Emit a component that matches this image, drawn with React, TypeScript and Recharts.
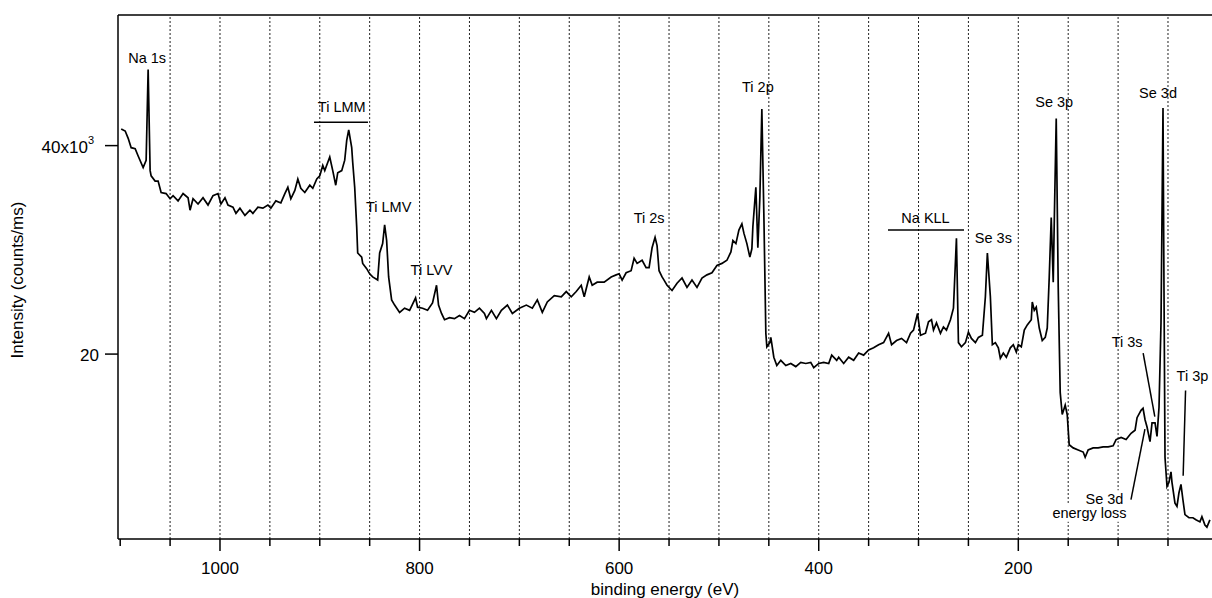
import React from "react";
import { LineChart, Line, XAxis, YAxis, ReferenceLine, ReferenceDot } from "recharts";

const FONT = "'Liberation Sans', Arial, sans-serif";

// binding energy (eV), high to low
const bindingEnergy = [
  1099, 1095, 1092, 1089, 1085, 1082, 1077, 1074, 1072, 1070, 1069, 1065, 1062, 1059, 1054, 1050,
  1047, 1042, 1037, 1032, 1030, 1027, 1022, 1017, 1012, 1007, 1002, 999, 995, 992, 987, 984, 980,
  975, 970, 967, 962, 957, 952, 949, 944, 939, 935, 932, 929, 925, 922, 919, 915, 910, 907, 903,
  900, 897, 895, 890, 887, 884, 882, 878, 875, 873, 871, 868, 867, 865, 863, 862, 858, 857, 853,
  850, 847, 842, 840, 837, 835, 833, 831, 828, 825, 820, 815, 810, 804, 802, 797, 792, 787, 783,
  781, 778, 775, 770, 765, 760, 755, 750, 745, 740, 735, 733, 728, 723, 718, 712, 707, 700, 693,
  687, 682, 677, 672, 665, 658, 653, 648, 643, 638, 635, 630, 627, 622, 615, 608, 603, 600, 597,
  593, 588, 585, 582, 577, 573, 570, 567, 564, 562, 560, 557, 555, 552, 547, 542, 537, 532, 527,
  522, 517, 512, 507, 502, 497, 492, 488, 486, 483, 480, 477, 475, 472, 469, 467, 466, 463, 461,
  459, 457, 455, 453, 452, 449, 448, 445, 442, 438, 433, 428, 423, 418, 413, 408, 405, 400, 395,
  390, 387, 382, 380, 375, 370, 365, 360, 355, 350, 345, 340, 335, 330, 327, 322, 317, 312, 308,
  305, 301, 298, 293, 290, 287, 285, 282, 278, 275, 272, 268, 265, 262, 260, 257, 253, 250, 247,
  243, 240, 236, 233, 231, 228, 226, 223, 220, 218, 215, 212, 208, 205, 202, 200, 197, 194, 191,
  187, 186, 184, 182, 179, 176, 173, 171, 169, 167, 165, 164, 162, 160, 158, 156, 153, 151, 149,
  145, 140, 135, 133, 130, 125, 120, 115, 110, 105, 102, 97, 92, 87, 83, 81, 77, 75, 73, 71, 68,
  66, 63, 61, 59, 57, 55, 54, 53, 51, 49, 47, 46, 43, 41, 39, 37, 35, 33, 29, 25, 22, 18, 16, 13,
  11, 8,
];

// intensity, x10^3 counts/ms
const intensity = [
  41.6, 41.4, 40.7, 39.8, 39.7, 39.0, 37.9, 38.6, 47.3, 37.6, 37.1, 36.6, 36.6, 35.5, 35.4, 34.9,
  35.2, 34.7, 35.4, 35.0, 33.8, 34.9, 34.4, 35.0, 34.3, 35.2, 35.4, 34.4, 35.0, 34.3, 34.1, 33.5, 34.0,
  33.3, 33.8, 33.5, 34.1, 34.0, 34.3, 34.0, 34.7, 34.5, 35.4, 36.0, 34.9, 35.7, 36.8, 35.9, 35.5, 36.2, 35.9, 36.8,
  37.1, 38.1, 37.6, 38.9, 37.6, 36.2, 37.4, 37.6, 38.6, 40.5, 41.5, 39.8, 38.4, 36.0, 32.2, 29.7, 29.3, 28.7, 28.2,
  27.7, 27.4, 27.1, 29.7, 30.6, 32.4, 30.9, 27.4, 25.2, 24.7, 24.0, 24.4, 24.2, 25.4, 24.5, 24.4, 24.2, 24.9, 26.6,
  24.7, 23.9, 23.3, 23.5, 23.4, 23.7, 23.4, 24.2, 24.0, 24.4, 23.9, 23.4, 24.2, 23.4, 24.2, 24.7, 23.9, 24.4, 24.7,
  24.4, 25.2, 24.0, 25.0, 25.6, 25.5, 26.0, 25.5, 26.0, 26.6, 25.5, 27.4, 26.6, 26.9, 26.9, 27.4, 27.6, 27.7, 27.1,
  27.8, 28.0, 29.2, 28.7, 29.0, 28.3, 28.3, 30.2, 31.2, 30.4, 28.0, 27.4, 27.1, 26.6, 26.1, 26.8, 27.3, 26.4, 27.1,
  26.4, 27.3, 27.6, 27.8, 28.5, 28.7, 29.0, 29.8, 30.9, 30.6, 31.9, 32.5, 31.6, 30.6, 29.3, 30.1, 32.2, 36.0, 30.2,
  35.0, 43.5, 33.5, 22.0, 20.7, 21.1, 21.6, 19.7, 18.9, 19.4, 18.9, 19.1, 18.8, 19.2, 19.1, 19.2, 18.7, 19.1, 19.2,
  19.1, 19.9, 19.4, 19.7, 19.1, 19.7, 19.4, 20.1, 19.9, 20.4, 20.6, 20.9, 21.1, 22.0, 20.9, 21.3, 21.5, 21.1, 22.0,
  22.3, 23.9, 21.8, 22.0, 23.1, 23.3, 22.3, 23.0, 22.0, 22.6, 22.3, 23.3, 24.4, 31.1, 21.1, 20.7, 21.1, 22.1, 21.5,
  21.1, 21.6, 21.8, 25.5, 29.7, 25.5, 20.9, 21.1, 20.6, 19.6, 20.1, 19.7, 20.6, 20.9, 20.2, 20.9, 20.7, 22.3, 22.8,
  23.3, 25.0, 24.2, 24.5, 22.5, 21.3, 21.6, 22.5, 27.4, 33.1, 26.9, 32.5, 42.6, 26.4, 16.3, 14.2, 15.1, 14.2, 11.3,
  11.0, 10.8, 10.6, 10.1, 10.8, 11.0, 11.0, 11.1, 11.1, 11.2, 11.8, 12.0, 11.8, 12.4, 12.7, 13.9, 14.6, 14.8, 13.7, 13.0, 11.6,
  13.4, 13.4, 12.1, 14.9, 23.0, 43.6, 26.1, 10.1, 7.3, 7.7, 8.7, 7.7, 5.7, 5.4, 6.7, 7.5, 6.0, 4.6, 4.3, 4.3, 4.1, 3.9, 4.4, 3.6,
  3.4, 4.1,
];

const xTicks = [1100, 1050, 1000, 950, 900, 850, 800, 750, 700, 650, 600, 550, 500, 450, 400, 350, 300, 250, 200, 150, 100, 50];
const xLabelled = [1000, 800, 600, 400, 200];
const gridEnergies = [1050, 1000, 950, 900, 850, 800, 750, 700, 650, 600, 550, 500, 450, 400, 350, 300, 250, 200, 150, 100, 50];
const yTicks = [20, 40];

const peakLabels = [
  { text: "Na 1s", e: 1073, i: 48.4 },
  { text: "Ti LMM", e: 878, i: 43.7 },
  { text: "Ti LMV", e: 831, i: 34.1 },
  { text: "Ti LVV", e: 788, i: 28.1 },
  { text: "Ti 2s", e: 570, i: 33.1 },
  { text: "Ti 2p", e: 461, i: 45.6 },
  { text: "Na KLL", e: 293, i: 33.1 },
  { text: "Se 3s", e: 225, i: 31.1 },
  { text: "Se 3p", e: 164, i: 44.2 },
  { text: "Se 3d", e: 60, i: 45.0 },
  { text: "Ti 3s", e: 91, i: 21.2 },
  { text: "Ti 3p", e: 25.5, i: 17.9 },
  { text: "Se 3d", e: 113.7, i: 6.1, bg: true },
  { text: "energy loss", e: 128.7, i: 4.75, bg: true },
];

const rangeBars = [
  { from: 905.8, to: 851.7, i: 42.24 },
  { from: 330.6, to: 254.4, i: 31.9 },
];

const leaders = [
  { e1: 74.9, i1: 20.1, e2: 63.2, i2: 14.0 },
  { e1: 32.4, i1: 16.5, e2: 34.8, i2: 8.33 },
  { e1: 87.1, i1: 6.03, e2: 73.1, i2: 12.8 },
];

const data = bindingEnergy.map((e, k) => ({ e, i: intensity[k] }));

const XTick = (props: any) => {
  const { x, y, payload } = props;
  const major = xLabelled.includes(payload.value);
  return (
    <g>
      <line x1={x} x2={x} y1={y} y2={y + (major ? 12 : 7)} stroke="#000" strokeWidth={1.5} />
      {major && (
        <text x={x} y={y + 35} textAnchor="middle" fontSize={17} fontFamily={FONT} fill="#000">
          {payload.value}
        </text>
      )}
    </g>
  );
};

const YTick = (props: any) => {
  const { x, y, payload } = props;
  return (
    <g>
      <line x1={x - 13} x2={x} y1={y} y2={y} stroke="#000" strokeWidth={1.5} />
      {payload.value === 40 ? (
        <text x={x - 24} y={y + 7.5} textAnchor="end" fontSize={17} fontFamily={FONT} fill="#000">
          40x10<tspan fontSize={11} dy={-9}>3</tspan>
        </text>
      ) : (
        <text x={x - 19} y={y + 7} textAnchor="end" fontSize={17} fontFamily={FONT} fill="#000">
          {payload.value}
        </text>
      )}
    </g>
  );
};

const PeakText = ({ cx, cy, text, bg }: any) => {
  const fs = 14.5;
  const w = text.length * fs * 0.5;
  return (
    <g>
      {bg && <rect x={cx - w / 2} y={cy - fs * 0.6} width={w} height={fs * 1.2} fill="#fff" />}
      <text x={cx} y={cy} textAnchor="middle" dominantBaseline="central" fontSize={fs} fontFamily={FONT} fill="#000">
        {text}
      </text>
    </g>
  );
};

export default function App() {
  return (
    <div style={{ position: "fixed", left: 0, top: 0, width: 1212, height: 598, background: "#fff" }}>
      <LineChart width={1212} height={598} data={data} margin={{ top: 15, right: 0, bottom: 0, left: 0 }}>
        <XAxis
          dataKey="e"
          type="number"
          reversed
          domain={[5.9, 1102.2]}
          allowDataOverflow
          ticks={xTicks}
          interval={0}
          height={59}
          tickSize={0}
          tickMargin={0}
          tickLine={false}
          axisLine={{ stroke: "#000", strokeWidth: 1.5 }}
          tick={<XTick />}
          label={{
            content: (p: any) => (
              <text
                x={p.viewBox.x + p.viewBox.width / 2}
                y={p.viewBox.y + 56}
                textAnchor="middle"
                fontSize={17}
                fontFamily={FONT}
                fill="#000"
              >
                binding energy (eV)
              </text>
            ),
          }}
        />
        <YAxis
          type="number"
          domain={[2.26, 52.53]}
          allowDataOverflow
          ticks={yTicks}
          interval={0}
          width={118}
          tickSize={0}
          tickMargin={0}
          tickLine={false}
          axisLine={{ stroke: "#000", strokeWidth: 1.5 }}
          tick={<YTick />}
          label={{
            content: (p: any) => {
              const cx = 17;
              const cy = p.viewBox.y + p.viewBox.height / 2 + 3;
              return (
                <text
                  x={cx}
                  y={cy}
                  transform={`rotate(-90, ${cx}, ${cy})`}
                  textAnchor="middle"
                  dominantBaseline="central"
                  fontSize={17}
                  fontFamily={FONT}
                  fill="#000"
                >
                  Intensity (counts/ms)
                </text>
              );
            },
          }}
        />
        {gridEnergies.map((g) => (
          <ReferenceLine key={g} x={g} stroke="#222" strokeWidth={1} strokeDasharray="2 2" />
        ))}
        <ReferenceLine y={52.53} stroke="#000" strokeWidth={1.5} />
        <Line
          dataKey="i"
          type="linear"
          stroke="#000"
          strokeWidth={1.7}
          dot={false}
          isAnimationActive={false}
        />
        {rangeBars.map((b, k) => (
          <ReferenceLine
            key={"bar" + k}
            segment={[{ x: b.from, y: b.i }, { x: b.to, y: b.i }]}
            stroke="#000"
            strokeWidth={1.5}
          />
        ))}
        {leaders.map((l, k) => (
          <ReferenceLine
            key={"lead" + k}
            segment={[{ x: l.e1, y: l.i1 }, { x: l.e2, y: l.i2 }]}
            stroke="#000"
            strokeWidth={1.5}
          />
        ))}
        {peakLabels.map((a, k) => (
          <ReferenceDot
            key={"lab" + k}
            x={a.e}
            y={a.i}
            r={0}
            shape={(p: any) => <PeakText cx={p.cx} cy={p.cy} text={a.text} bg={a.bg} />}
          />
        ))}
      </LineChart>
    </div>
  );
}
